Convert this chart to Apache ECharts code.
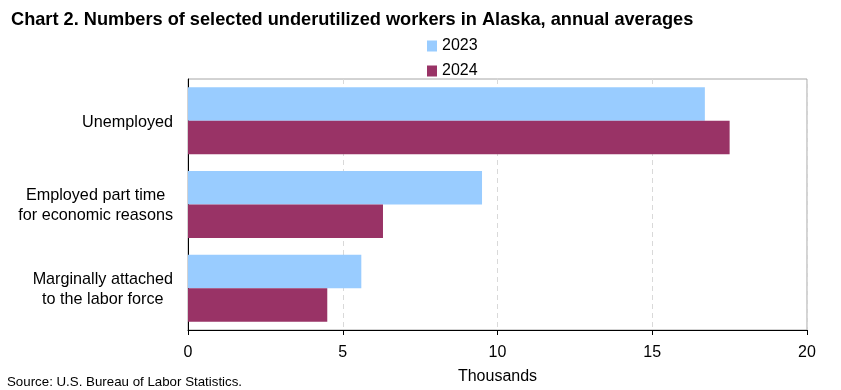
<!DOCTYPE html>
<html>
<head>
<meta charset="utf-8">
<script src="https://cdn.jsdelivr.net/npm/echarts@6/dist/echarts.min.js"></script>
<style>
html,body{margin:0;padding:0;background:#fff;}
#chart{width:841px;height:390px;}
</style>
</head>
<body>
<div id="chart"></div>
<script>
var categories = ["Unemployed", "Employed part time\nfor economic reasons", "Marginally attached\nto the labor force"];
var values2023 = [16.7, 9.5, 5.6];
var values2024 = [17.5, 6.3, 4.5];
var seriesNames = ["2023", "2024"];
var xTicks = [0, 5, 10, 15, 20];

var FONT = "'Liberation Sans', Arial, sans-serif";
var chart = echarts.init(document.getElementById('chart'), null, {renderer: 'canvas'});
chart.setOption({
  animation: false,
  backgroundColor: '#ffffff',
  title: {
    text: 'Chart 2. Numbers of selected underutilized workers in Alaska, annual averages',
    left: 6, top: 6,
    textStyle: {fontFamily: FONT, fontSize: 18.2, fontWeight: 'bold', color: '#000'}
  },
  legend: {
    orient: 'vertical',
    left: 422, top: 33,
    itemWidth: 10, itemHeight: 11, itemGap: 9,
    icon: 'rect',
    textStyle: {fontFamily: FONT, fontSize: 16, color: '#000', padding: [0,0,0,0]},
    data: seriesNames
  },
  grid: {
    left: 188, top: 79, right: 34, bottom: 60,
    show: true, borderColor: '#a6a6a6', borderWidth: 1,
    containLabel: false
  },
  xAxis: {
    type: 'value',
    min: xTicks[0], max: xTicks[xTicks.length - 1], interval: 5,
    name: 'Thousands',
    nameLocation: 'middle', nameGap: 39,
    nameTextStyle: {fontFamily: FONT, fontSize: 16, color: '#000'},
    axisLine: {show: true, lineStyle: {color: '#000', width: 1}},
    axisTick: {show: true, length: 5, lineStyle: {color: '#000'}},
    axisLabel: {fontFamily: FONT, fontSize: 16, color: '#000', margin: 15},
    splitLine: {show: true, lineStyle: {color: '#d9d9d9', type: [5, 4]}}
  },
  yAxis: {
    type: 'category',
    inverse: true,
    data: categories,
    axisLine: {show: true, lineStyle: {color: '#000', width: 1}},
    axisTick: {show: false},
    axisLabel: {
      fontFamily: FONT, fontSize: 16.2, color: '#000', margin: 15,
      formatter: function (v) {
        return v.split('\n').map(function (s) { return '{a|' + s + '}'; }).join('\n');
      },
      rich: {a: {fontFamily: FONT, fontSize: 16.2, color: '#000', align: 'center', lineHeight: 20, padding: [3, 0, 0, 0]}}
    },
    splitLine: {show: false}
  },
  series: [
    {name: seriesNames[0], type: 'bar', data: values2023, barGap: '0%', barCategoryGap: '20%',
     itemStyle: {color: '#99ccff'}},
    {name: seriesNames[1], type: 'bar', data: values2024, barGap: '0%', barCategoryGap: '20%',
     itemStyle: {color: '#993366'}}
  ],
  graphic: [{
    type: 'text', left: 7, top: 376,
    style: {text: 'Source: U.S. Bureau of Labor Statistics.', fontFamily: FONT, fontSize: 13.3, fill: '#000'}
  }]
});
</script>
</body>
</html>
